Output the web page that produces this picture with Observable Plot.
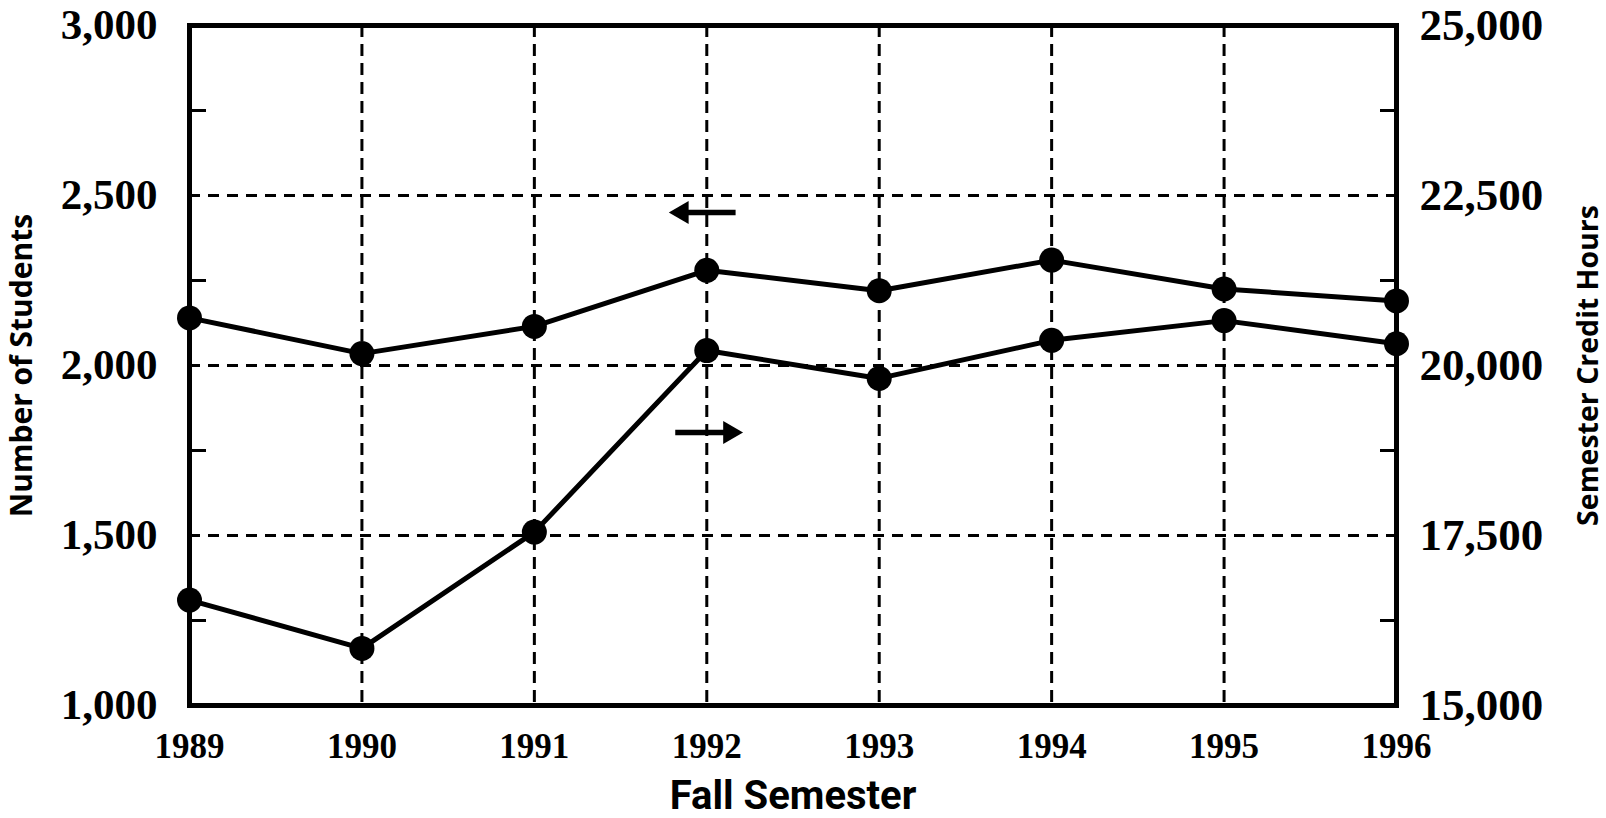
<!DOCTYPE html>
<html><head><meta charset="utf-8">
<script src="https://cdn.jsdelivr.net/npm/d3@7"></script>
<script src="https://cdn.jsdelivr.net/npm/@observablehq/plot@0.6"></script>
<style>body{margin:0;background:#fff} svg{display:block}</style>
</head><body><div id="chart"></div>
<script>
// ---- data ----
const years = [1989, 1990, 1991, 1992, 1993, 1994, 1995, 1996];
const students = [2140, 2035, 2115, 2280, 2220, 2310, 2225, 2190];        // left axis
const creditHours = [16550, 15840, 17550, 20220, 19810, 20370, 20660, 20320]; // right axis
const leftTicks = [1000, 1500, 2000, 2500, 3000];
const leftMinorTicks = [1250, 1750, 2250, 2750];
const rightTicks = [15000, 17500, 20000, 22500, 25000];
const rightMinorTicks = [16250, 18750, 21250, 23750];
const gridYears = [1990, 1991, 1992, 1993, 1994, 1995];
const gridValues = [1500, 2000, 2500];
// arrow annotations: from year, to year, value on left axis, direction
const arrowFrom = [1991.81, 1991.82];
const arrowTo = [1992.17, 1992.18];
const arrowLevel = [2450, 1803];
const arrowDir = ["left", "right"];

const xLabel = "Fall Semester";
const leftLabel = "Number of Students";
const rightLabel = "Semester Credit Hours";

// ---- helpers ----
const toLeft = v => 1000 + (v - 15000) / 5;
const fromLeft = v => 15000 + (v - 1000) * 5;
const fmt = d3.format(",");

const rows = years.map((y, i) => ({year: y, students: students[i], hours: creditHours[i]}));
const arrows = arrowFrom.map((f, i) => ({x1: f, x2: arrowTo[i], y: arrowLevel[i], dir: arrowDir[i]}));
const leftArrows = arrows.filter(a => a.dir === "left");
const rightArrows = arrows.filter(a => a.dir === "right");

const numFont = {fontFamily: "Liberation Serif, serif", fontWeight: "bold"};
const titleFont = "Open Sans, sans-serif";

const chart = Plot.plot({
  width: 1606,
  height: 818,
  marginLeft: 189,
  marginRight: 210,
  marginTop: 25,
  marginBottom: 113,
  style: {background: "#fff", color: "#000"},
  x: {domain: [1989, 1996], axis: null},
  y: {domain: [1000, 3000], axis: null},
  marks: [
    // dashed grid
    Plot.ruleX(gridYears, {x: d => d, stroke: "#000", strokeWidth: 3, strokeDasharray: "12,7"}),
    Plot.ruleY(gridValues, {y: d => d, stroke: "#000", strokeWidth: 3, strokeDasharray: "11,8"}),
    // left axis
    Plot.axisY(leftTicks, {anchor: "left", tickSize: 0, tickPadding: 32, tickFormat: fmt, fontSize: 43, ...numFont, label: null}),
    Plot.axisY(leftMinorTicks, {anchor: "left", tickSize: 17, dx: 17, strokeWidth: 3, tickFormat: () => "", label: null}),
    // right axis
    Plot.axisY(rightTicks.map(toLeft), {anchor: "right", tickSize: 0, tickPadding: 23, tickFormat: d => fmt(fromLeft(d)), fontSize: 45, ...numFont, label: null}),
    Plot.axisY(rightMinorTicks.map(toLeft), {anchor: "right", tickSize: 17, dx: -17, strokeWidth: 3, tickFormat: () => "", label: null}),
    // x axis
    Plot.axisX(years, {anchor: "bottom", tickSize: 0, tickPadding: 28, tickFormat: d => String(d), fontSize: 35, ...numFont, label: null}),
    // titles
    Plot.text([xLabel], {frameAnchor: "bottom", dy: 91, text: d => d, fontSize: 40, fontWeight: "bold", fontFamily: "Roboto, sans-serif", textAnchor: "middle", lineAnchor: "middle"}),
    Plot.text([leftLabel], {frameAnchor: "left", dx: -167, rotate: -90, text: d => d, fontSize: 30, fontWeight: "bold", fontFamily: titleFont, textAnchor: "middle", lineAnchor: "middle"}),
    Plot.text([rightLabel], {frameAnchor: "right", dx: 192, rotate: -90, text: d => d, fontSize: 28.5, fontWeight: "bold", fontFamily: titleFont, textAnchor: "middle", lineAnchor: "middle"}),
    // series
    Plot.line(rows, {x: "year", y: "students", stroke: "#000", strokeWidth: 5}),
    Plot.dot(rows, {x: "year", y: "students", r: 12.5, fill: "#000", stroke: "none"}),
    Plot.line(rows, {x: "year", y: d => toLeft(d.hours), stroke: "#000", strokeWidth: 5}),
    Plot.dot(rows, {x: "year", y: d => toLeft(d.hours), r: 12.5, fill: "#000", stroke: "none"}),
    // arrows
    Plot.ruleY(leftArrows, {y: "y", x1: "x1", x2: "x2", stroke: "#000", strokeWidth: 5.5, insetLeft: 12}),
    Plot.dot(leftArrows, {x: "x1", y: "y", symbol: "triangle", rotate: -90, r: 8.5, fill: "#000", stroke: "none", dx: 8}),
    Plot.ruleY(rightArrows, {y: "y", x1: "x1", x2: "x2", stroke: "#000", strokeWidth: 5.5, insetRight: 12}),
    Plot.dot(rightArrows, {x: "x2", y: "y", symbol: "triangle", rotate: 90, r: 8.5, fill: "#000", stroke: "none", dx: -8}),
    // frame
    Plot.frame({stroke: "#000", strokeWidth: 5})
  ]
});
document.getElementById("chart").appendChild(chart);
</script>
</body></html>
